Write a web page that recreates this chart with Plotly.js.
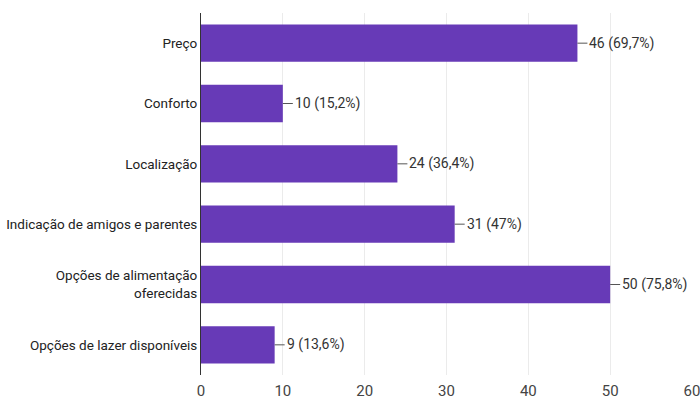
<!DOCTYPE html>
<html>
<head>
<meta charset="utf-8">
<script src="https://cdn.plot.ly/plotly-3.0.1.min.js"></script>
<style>html,body{margin:0;padding:0;background:#fff;}#chart{width:700px;height:406px;}</style>
</head>
<body>
<div id="chart"></div>
<script>
const categories = ["Preço", "Conforto", "Localização", "Indicação de amigos e parentes", "Opções de alimentação<br>oferecidas", "Opções de lazer disponíveis"];
const counts = [46, 10, 24, 31, 50, 9];
const labels = ["46 (69,7%)", "10 (15,2%)", "24 (36,4%)", "31 (47%)", "50 (75,8%)", "9 (13,6%)"];
const xTicks = [0, 10, 20, 30, 40, 50, 60];

const FONT = "Roboto, Arial, sans-serif";

const annotations = categories.map((c, i) => ({
  x: counts[i], y: c, xref: 'x', yref: 'y',
  text: labels[i], showarrow: true, arrowhead: 0, arrowwidth: 1, arrowcolor: '#555',
  ax: 10, ay: 0, xanchor: 'left', yanchor: 'middle',
  font: {family: FONT, size: 14, color: '#333'}
}));

const data = [{
  type: 'bar', orientation: 'h', x: counts, y: categories,
  marker: {color: '#673ab7'}, width: 0.62, hoverinfo: 'none'
}];

const layout = {
  width: 700, height: 406,
  margin: {l: 201, r: 8, t: 13, b: 31},
  paper_bgcolor: '#fff', plot_bgcolor: '#fff',
  showlegend: false,
  font: {family: FONT, size: 14, color: '#222'},
  xaxis: {range: [0, 60], tickvals: xTicks, ticktext: xTicks.map(String), showgrid: true, gridcolor: '#ebebeb', gridwidth: 1,
    zeroline: false, showline: false, ticks: '', ticklabeloverflow: 'allow', ticklabelstandoff: 5,
    tickfont: {family: FONT, size: 15, color: '#444'}, fixedrange: true},
  yaxis: {autorange: 'reversed', categoryorder: 'array', categoryarray: categories, showline: true, linecolor: '#333', linewidth: 1,
    ticks: '', ticklen: 0, tickfont: {family: FONT, size: 13.5, color: '#222'}, fixedrange: true, showgrid: false},
  annotations: annotations
};

Plotly.newPlot('chart', data, layout, {displayModeBar: false, staticPlot: true});
</script>
</body>
</html>
